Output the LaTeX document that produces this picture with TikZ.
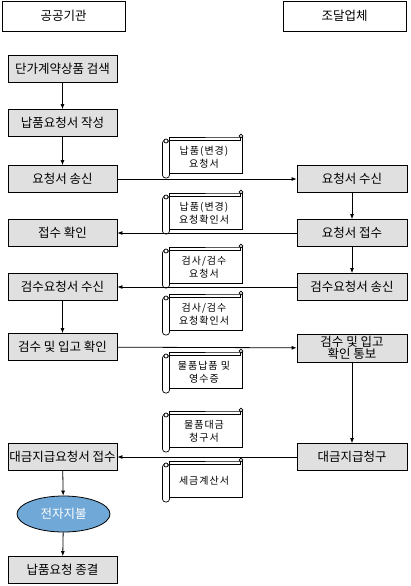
\documentclass[tikz,border=0pt]{standalone}
\usepackage{fontspec}
\setmainfont{Noto Sans CJK KR}
\usetikzlibrary{arrows.meta,shapes.geometric}
\definecolor{boxgray}{RGB}{224,224,224}
\definecolor{paybl}{RGB}{112,168,216}

\tikzset{
  headbox/.style={draw,line width=0.8pt,minimum width=123pt,minimum height=30pt,
    font=\fontsize{12.5}{14}\selectfont},
  procbox/.style={draw,line width=0.8pt,fill=boxgray,minimum width=109pt,
    minimum height=27pt,inner sep=1pt,align=center,font=\fontsize{12.5}{13}\selectfont},
  doctext/.style={align=center,inner sep=1pt,
    font=\fontsize{10}{13}\selectfont\addfontfeature{LetterSpace=10}},
  flow/.style={line width=0.8pt,-{Latex[length=5pt,width=4pt]}},
  docscroll/.pic={
    % sheet
    \draw[line width=0.7pt,fill=white] (-33,-20) -- (38,-20) -- (40,-20) -- (40,16) -- (-33,16) -- cycle;
    \draw[line width=0.7pt] (-33,-17) -- (38,-17) -- (38,-20);
    \draw[line width=0.7pt,fill=white] (38.5,-21) circle (1.8);
    % left roll
    \draw[line width=0.7pt,fill=white,rounded corners=3pt] (-40,-17) rectangle (-33,21);
    \draw[line width=0.7pt,fill=white] (-36.5,-16) circle (2);
  }
}

\begin{document}
\begin{tikzpicture}[x=1pt,y=-1pt]
\useasboundingbox (0,0) rectangle (410,586);

% headers
\node[headbox] (org) at (63.5,16) {공공기관};
\node[headbox] (firm) at (344.5,16) {조달업체};

% public agency side
\node[procbox] (search) at (62.5,68.5) {단가계약상품 검색};
\node[procbox] (write) at (62.5,123) {납품요청서 작성};
\node[procbox] (send) at (62.5,179) {요청서 송신};
\node[procbox] (confirm) at (62.5,233) {접수 확인};
\node[procbox] (inspin) at (62.5,287) {검수요청서 수신};
\node[procbox] (check) at (62.5,347) {검수 및 입고 확인};
\node[procbox] (payreq) at (62.5,457) {대금지급요청서 접수};
\node[ellipse,draw,line width=0.8pt,fill=paybl,text=white,minimum width=93pt,
  minimum height=36pt,inner sep=0pt,font=\fontsize{12.5}{13}\selectfont] (epay) at (63.5,514) {전자지불};
\node[procbox] (close) at (62.5,570) {납품요청 종결};

% supplier side
\node[procbox,minimum width=110pt] (recv) at (352,179) {요청서 수신};
\node[procbox,minimum width=110pt] (accept) at (352,233) {요청서 접수};
\node[procbox,minimum width=110pt] (inspout) at (352,287) {검수요청서 송신};
\node[procbox,minimum width=110pt,minimum height=28pt,font=\fontsize{12.5}{12.5}\selectfont] (notify) at (352,348) {검수 및 입고\\확인 통보};
\node[procbox,minimum width=110pt] (claim) at (352,457) {대금지급청구};

% vertical flow
\draw[flow] (search) -- (write);
\draw[flow] (write) -- (send);
\draw[flow] (inspin) -- (check);
\draw[flow] (payreq) -- (epay);
\draw[flow] (epay) -- (close);
\draw[flow] (recv) -- (accept);
\draw[flow] (accept) -- (inspout);
\draw[flow] (notify) -- (claim);

% documents
\pic at (202.5,157) {docscroll};
\node[doctext] (doc1) at (204,157) {납품(변경)\\요청서};
\pic at (202.5,213) {docscroll};
\node[doctext] (doc2) at (204,213) {납품(변경)\\요청확인서};
\pic at (202.5,267) {docscroll};
\node[doctext] (doc3) at (204,267) {검사/검수\\요청서};
\pic at (202.5,314) {docscroll};
\node[doctext] (doc4) at (204,314) {검사/검수\\요청확인서};
\pic at (202.5,372) {docscroll};
\node[doctext] (doc5) at (204,372) {물품납품 및\\영수증};
\pic at (202.5,431) {docscroll};
\node[doctext] (doc6) at (204,431) {물품대금\\청구서};
\pic at (202.5,481) {docscroll};
\node[doctext] (doc7) at (204,481) {세금계산서};

% horizontal flow
\draw[flow] (send) -- (recv);
\draw[flow] (accept) -- (confirm);
\draw[flow] (inspout) -- (inspin);
\draw[flow] (check) -- (notify);
\draw[flow] (claim) -- (payreq);
\end{tikzpicture}
\end{document}
